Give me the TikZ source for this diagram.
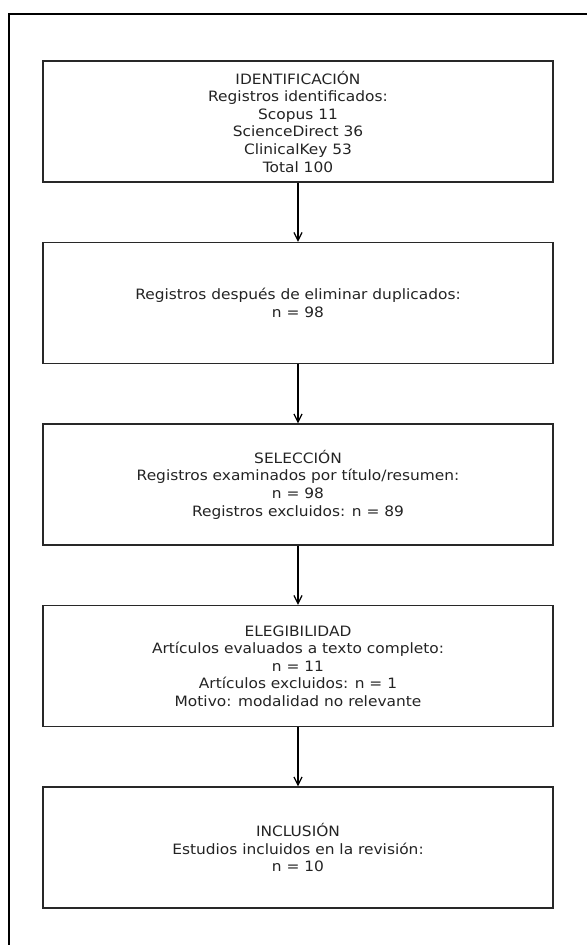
\documentclass[tikz,border=0pt]{standalone}
\usepackage{fontspec}
\setmainfont{DejaVu Sans}[FakeStretch=1.08]
\usetikzlibrary{arrows.meta}

\tikzset{every picture/.style={line width=1.1pt}}

\begin{document}
\begin{tikzpicture}[x=0.75pt,y=0.75pt,yscale=-1,xscale=1,
  stagebox/.style={draw={rgb,255:red,40;green,40;blue,40},minimum width=382.5pt,minimum height=90.75pt,inner sep=0pt,align=center,font=\fontsize{10.7pt}{13.2pt}\selectfont,text={rgb,255:red,35;green,35;blue,35}},
  flowarrow/.style={-{Straight Barb[length=6pt,width=6pt]},line width=0.9pt}]
\useasboundingbox (0,0) rectangle (587,945);

%Straight Lines: frame
\draw [line width=1.4pt]  (9,945) -- (9,14) -- (587,14) ;

%Shape: Rectangle
\node [stagebox] (ident) at (298,121.5) {IDENTIFICACIÓN\\Registros identificados:\\Scopus 11\\ScienceDirect 36\\ClinicalKey 53\\Total 100};
%Shape: Rectangle
\node [stagebox] (dupl) at (298,303) {Registros después de eliminar duplicados:\\n = 98};
%Shape: Rectangle
\node [stagebox] (selec) at (298,484.5) {SELECCIÓN\\Registros examinados por título/resumen:\\n = 98\\Registros excluidos: n = 89};
%Shape: Rectangle
\node [stagebox] (elegib) at (298,666) {ELEGIBILIDAD\\Artículos evaluados a texto completo:\\n = 11\\Artículos excluidos: n = 1\\Motivo: modalidad no relevante};
%Shape: Rectangle
\node [stagebox] (inclu) at (298,847.5) {INCLUSIÓN\\Estudios incluidos en la revisión:\\n = 10};

%Straight Lines
\draw [flowarrow]  (ident) -- (dupl) ;
\draw [flowarrow]  (dupl) -- (selec) ;
\draw [flowarrow]  (selec) -- (elegib) ;
\draw [flowarrow]  (elegib) -- (inclu) ;

\end{tikzpicture}
\end{document}
